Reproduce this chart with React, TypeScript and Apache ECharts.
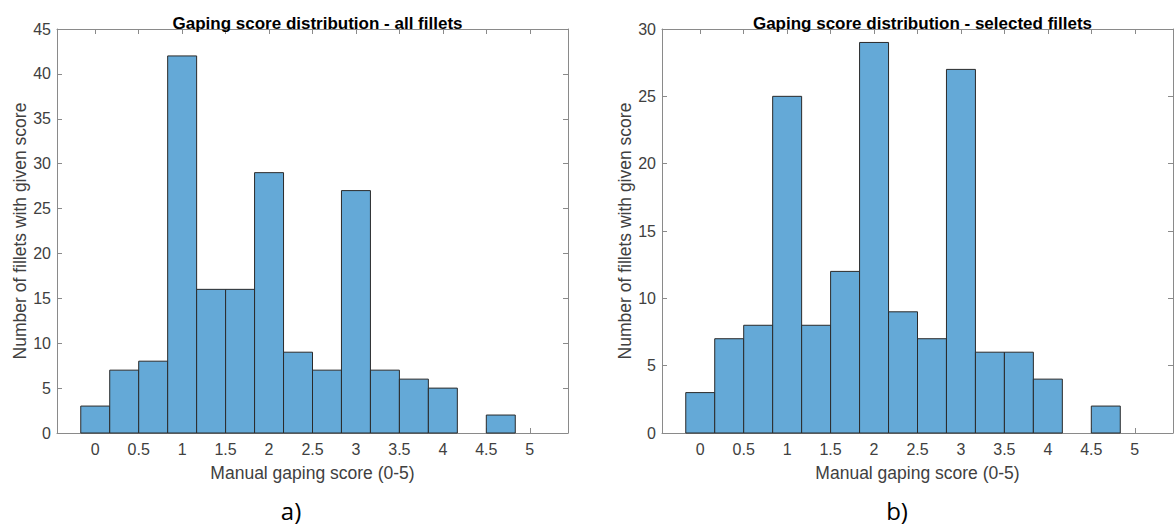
import React, { useEffect, useRef } from "react";
import * as echarts from "echarts";

const binCenters = [0, 1 / 3, 2 / 3, 1, 4 / 3, 5 / 3, 2, 7 / 3, 8 / 3, 3, 10 / 3, 11 / 3, 4, 13 / 3, 14 / 3];
const binWidth = 1 / 3;
const allFillets = [3, 7, 8, 42, 16, 16, 29, 9, 7, 27, 7, 6, 5, 0, 2];
const selectedFillets = [3, 7, 8, 25, 8, 12, 29, 9, 7, 27, 6, 6, 4, 0, 2];
const xTicks = [0, 0.5, 1, 1.5, 2, 2.5, 3, 3.5, 4, 4.5, 5];
const titles = ["Gaping score distribution - all fillets", "Gaping score distribution - selected fillets"];
const xName = "Manual gaping score (0-5)";
const yName = "Number of fillets with given score";
const panelLabels = ["a)", "b)"];
const yMax = [45, 30];

const FONT = "Liberation Sans";
const LINE = "#8a8a8a";
const TXT = "#404040";
const FILL = "#64a9d7";
const EDGE = "#2a2a2a";
const X_MIN = -0.44;
const X_MAX = 5.44;

export default function App() {
  const ref = useRef<HTMLDivElement>(null);
  useEffect(() => {
    if (!ref.current) return;
    const chart = echarts.init(ref.current, null, { renderer: "svg" });
    const grids = [
      { left: 57, width: 511, top: 29, height: 404 },
      { left: 662, width: 511, top: 29, height: 404 },
    ];
    const xAxes: any[] = [];
    const yAxes: any[] = [];
    grids.forEach((g, i) => {
      const axisLine = { show: true, onZero: false, lineStyle: { color: LINE, width: 1 } };
      xAxes.push({
        type: "value", gridIndex: i, position: "bottom", min: X_MIN, max: X_MAX,
        axisLine,
        axisTick: { show: true, inside: true, length: 5, customValues: xTicks, lineStyle: { color: LINE } },
        axisLabel: { show: true, customValues: xTicks, color: TXT, fontFamily: FONT, fontSize: 16, margin: 8 },
        splitLine: { show: false },
        name: xName, nameLocation: "middle", nameGap: 31,
        nameTextStyle: { color: TXT, fontFamily: FONT, fontSize: 17.5 },
      });
      xAxes.push({
        type: "value", gridIndex: i, position: "top", min: X_MIN, max: X_MAX,
        axisLine,
        axisTick: { show: true, inside: true, length: 5, customValues: xTicks, lineStyle: { color: LINE } },
        axisLabel: { show: false },
        splitLine: { show: false },
      });
      yAxes.push({
        type: "value", gridIndex: i, position: "left", min: 0, max: yMax[i], interval: 5,
        axisLine,
        axisTick: { show: true, inside: true, length: 5, lineStyle: { color: LINE } },
        axisLabel: { color: TXT, fontFamily: FONT, fontSize: 16, margin: 6 },
        splitLine: { show: false },
        name: yName, nameLocation: "middle", nameGap: 28,
        nameTextStyle: { color: TXT, fontFamily: FONT, fontSize: 17.5 },
      });
      yAxes.push({
        type: "value", gridIndex: i, position: "right", min: 0, max: yMax[i], interval: 5,
        axisLine,
        axisTick: { show: true, inside: true, length: 5, lineStyle: { color: LINE } },
        axisLabel: { show: false },
        splitLine: { show: false },
      });
    });

    const makeSeries = (values: number[], idx: number) => ({
      type: "custom",
      xAxisIndex: idx * 2,
      yAxisIndex: idx * 2,
      data: binCenters.map((c, k) => [c, values[k]]),
      encode: { x: 0, y: 1 },
      renderItem: (params: any, api: any) => {
        const c = api.value(0);
        const v = api.value(1);
        if (!v) return null;
        const p0 = api.coord([c - binWidth / 2, v]);
        const p1 = api.coord([c + binWidth / 2, 0]);
        return {
          type: "rect",
          shape: { x: p0[0], y: p0[1], width: p1[0] - p0[0], height: p1[1] - p0[1] },
          style: { fill: FILL, stroke: EDGE, lineWidth: 1 },
        };
      },
    });

    chart.setOption({
      animation: false,
      backgroundColor: "#ffffff",
      title: grids.map((g, i) => ({
        text: titles[i],
        left: g.left + g.width / 2,
        textAlign: "center",
        top: 10,
        textStyle: { fontFamily: FONT, fontSize: 17, fontWeight: "bold", color: "#000000" },
      })),
      grid: grids.map((g) => ({ ...g, containLabel: false })),
      xAxis: xAxes,
      yAxis: yAxes,
      series: [makeSeries(allFillets, 0), makeSeries(selectedFillets, 1)],
      graphic: panelLabels.map((t, i) => ({
        type: "text",
        x: i === 0 ? 291 : 897,
        y: 510,
        style: {
          text: t, fontFamily: "Open Sans", fontSize: 24, fill: "#000000",
          textAlign: "center", textVerticalAlign: "middle",
        },
      })),
    });
    return () => chart.dispose();
  }, []);
  return <div ref={ref} style={{ position: "fixed", left: 0, top: 0, width: 1174, height: 526 }} />;
}
